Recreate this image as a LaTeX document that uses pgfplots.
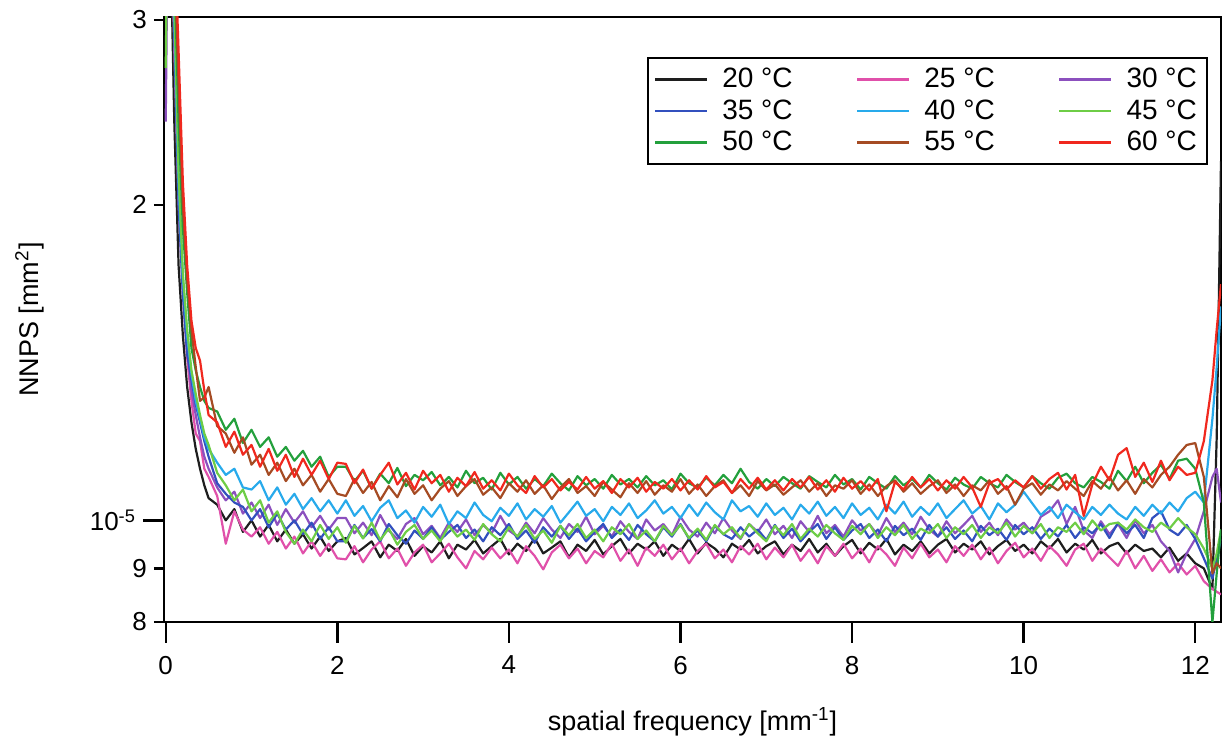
\documentclass[border=0pt]{standalone}
\usepackage{pgfplots}
\usepackage{pgfplotstable}
\pgfplotsset{compat=1.18}
\usepackage{fontspec}
\setmainfont{Liberation Sans}
\definecolor{c20col}{RGB}{30,30,30}
\definecolor{c25col}{RGB}{224,80,170}
\definecolor{c30col}{RGB}{140,80,190}
\definecolor{c35col}{RGB}{50,80,190}
\definecolor{c40col}{RGB}{40,170,235}
\definecolor{c45col}{RGB}{110,205,70}
\definecolor{c50col}{RGB}{35,160,60}
\definecolor{c55col}{RGB}{165,75,35}
\definecolor{c60col}{RGB}{240,40,30}
\pgfplotstableread{
x c20 c25 c30 c35 c40 c45 c50 c55 c60
0 60 60 24 60 60 27 60 60 60
0.05 38 42 60 42 44 60 48 50 52
0.1 24 28 30 29 30 31 34 35 37
0.15 17.5 20 20.5 20 21 21.5 24 26 28
0.2 15 16.5 16.8 16.4 17 17.2 19 20 21
0.25 13.4 14.3 14.6 14.4 15 15.2 16.5 17 17.5
0.3 12.4 13.0 13.3 13.6 13.8 13.9 14.6 15.2 15.5
0.35 11.7 12.1 12.6 12.9 13.0 13.2 13.9 14.0 14.6
0.4 11.2 11.9 12.0 12.4 12.5 12.6 13.4 13.0 14.2
0.45 10.8 11.2 11.5 11.9 12.0 12.1 13.0 13.1 13.3
0.5 10.5 11.0 11.2 11.5 11.7 11.8 12.8 13.4 12.6
0.6 10.35 10.55 10.75 10.85 11.35 11.1 12.7 12.3 12.4
0.7 10.0 9.5 10.45 10.6 11.05 10.8 12.2 12.1 11.75
0.8 10.25 10.2 10.65 10.4 11.2 10.45 12.5 11.6 12.15
0.9 9.75 9.8 10.15 10.3 10.75 10.7 11.85 12.0 11.55
1.0 10.0 9.65 10.4 10.0 10.7 10.2 12.2 11.3 11.8
1.1 9.65 9.85 10.05 10.25 10.9 10.45 11.75 11.55 11.25
1.2 9.9 9.5 10.35 9.85 10.45 9.95 12.0 11.05 11.7
1.3 9.55 9.75 9.9 10.15 10.75 10.2 11.5 11.35 11.15
1.4 9.8 9.4 10.25 9.8 10.35 9.75 11.75 10.9 11.55
1.5 9.5 9.65 9.95 10.0 10.6 9.5 11.4 11.2 11.0
1.6 9.7 9.3 10.2 9.7 10.25 9.8 11.65 10.8 11.45
1.7 9.4 9.55 9.85 9.95 10.5 9.55 11.25 11.05 11.05
1.8 9.65 9.25 10.1 9.6 10.2 9.9 11.5 10.65 11.4
1.9 9.35 9.5 9.8 9.85 10.45 9.6 11.0 10.95 10.95
2.0 9.55 9.2 10.05 9.55 10.15 9.85 11.25 10.6 11.35
2.1 9.62 9.18 10.05 9.55 10.45 9.52 11.25 10.55 11.32
2.2 9.28 9.45 9.72 9.9 10.1 9.88 10.9 10.95 10.85
2.3 9.41 9.12 9.95 9.62 10.32 9.61 11.15 10.62 11.18
2.4 9.55 9.38 9.68 9.81 9.98 9.95 10.72 10.88 10.72
2.5 9.22 9.55 10.12 9.55 10.28 9.58 11.08 10.45 11.05
2.6 9.48 9.2 9.78 9.92 10.45 9.82 10.85 10.78 11.35
2.7 9.35 9.4 9.6 9.68 10.05 9.48 11.22 10.52 10.82
2.8 9.6 9.05 9.92 9.5 10.22 9.75 10.78 10.95 11.1
2.9 9.25 9.32 10.05 9.78 9.95 9.9 11.05 10.6 10.7
3.0 9.45 9.48 9.7 9.6 10.3 9.6 10.92 10.8 11.15
3.1 9.32 9.12 9.88 9.85 10.08 9.78 11.12 10.45 10.85
3.2 9.55 9.3 9.62 9.58 10.35 9.55 10.8 10.72 11.05
3.3 9.2 9.5 9.95 9.75 9.92 9.88 11.0 10.9 10.65
3.4 9.48 9.22 9.75 9.9 10.2 9.65 10.75 10.55 10.98
3.5 9.38 9.0 10.02 9.62 10.05 9.8 11.15 10.78 10.78
3.6 9.58 9.35 9.68 9.8 10.4 9.58 10.85 10.95 11.12
3.7 9.3 9.18 9.9 9.55 10.12 9.92 10.98 10.58 10.72
3.8 9.45 9.42 9.72 9.85 9.98 9.7 10.7 10.75 10.92
3.9 9.6 9.2 10.1 9.68 10.28 9.55 11.1 10.5 10.68
4.0 9.28 9.38 9.78 9.92 10.1 9.85 10.82 10.85 11.08
4.1 9.5 9.1 9.65 9.6 10.38 9.65 11.0 10.65 10.8
4.2 9.35 9.45 9.95 9.78 10.02 9.9 10.72 10.92 10.62
4.3 9.62 9.25 9.72 9.52 10.25 9.6 10.95 10.6 11.02
4.4 9.3 8.98 10.05 9.85 10.08 9.78 10.78 10.8 10.75
4.5 9.42 9.32 9.8 9.65 10.32 9.52 11.08 10.48 10.95
4.6 9.55 9.48 9.62 9.88 9.95 9.88 10.85 10.75 10.68
4.7 9.22 9.2 9.92 9.6 10.18 9.68 10.68 10.95 10.88
4.8 9.48 9.4 9.75 9.82 10.42 9.92 11.02 10.62 10.7
4.9 9.35 9.1 10.08 9.55 10.1 9.62 10.8 10.78 11.0
5.0 9.58 9.35 9.7 9.75 10.25 9.8 10.95 10.55 10.72
5.1 9.28 9.22 9.88 9.92 9.98 9.55 10.72 10.88 10.9
5.2 9.45 9.5 9.65 9.62 10.3 9.85 11.05 10.7 10.62
5.3 9.6 9.15 9.98 9.8 10.12 9.7 10.82 10.52 10.95
5.4 9.3 9.38 9.75 9.58 10.38 9.92 10.95 10.85 10.75
5.5 9.5 9.05 9.6 9.9 10.05 9.6 10.75 10.62 10.98
5.6 9.38 9.42 10.02 9.7 10.22 9.78 11.02 10.9 10.65
5.7 9.55 9.25 9.78 9.55 10.45 9.55 10.8 10.58 10.88
5.8 9.25 9.48 9.92 9.85 10.15 9.88 10.92 10.8 10.72
5.9 9.48 9.18 9.68 9.65 10.3 9.68 10.7 10.65 10.95
6.0 9.35 9.4 10.08 9.92 10.05 9.9 11.08 10.95 10.68
6.1 9.6 9.1 9.8 9.6 10.35 9.62 10.85 10.6 10.92
6.2 9.3 9.35 9.65 9.78 10.1 9.82 10.75 10.82 10.7
6.3 9.52 9.5 9.95 9.55 10.4 9.58 10.98 10.55 11.02
6.4 9.4 9.2 9.72 9.88 10.18 9.9 10.8 10.78 10.75
6.5 9.22 9.38 10.05 9.7 10.02 9.7 11.05 10.92 10.88
6.6 9.5 9.12 9.78 9.6 10.45 9.85 10.85 10.62 10.62
6.7 9.38 9.45 9.6 9.85 10.2 9.62 11.2 10.8 10.95
6.8 9.58 9.28 9.92 9.65 10.32 9.92 10.88 10.55 10.72
6.9 9.3 9.5 9.75 9.8 10.08 9.72 10.72 10.9 10.98
7.0 9.45 9.18 10.02 9.58 10.38 9.55 10.95 10.68 10.7
7.1 9.55 9.42 9.7 9.9 10.12 9.88 10.78 10.82 10.92
7.2 9.28 9.22 9.88 9.62 10.28 9.68 11.0 10.58 10.68
7.3 9.48 9.48 9.62 9.82 10.02 9.92 10.85 10.75 10.95
7.4 9.35 9.15 9.98 9.55 10.35 9.6 10.72 10.92 10.75
7.5 9.6 9.38 9.75 9.75 10.15 9.82 11.02 10.65 11.0
7.6 9.32 9.1 10.1 9.92 10.42 9.65 10.88 10.85 10.7
7.7 9.5 9.45 9.72 9.6 10.1 9.9 10.75 10.55 10.92
7.8 9.25 9.25 9.9 9.85 10.3 9.72 11.05 10.8 10.65
7.9 9.45 9.5 9.65 9.58 10.05 9.58 10.82 10.72 10.98
8.0 9.58 9.2 10.0 9.78 10.38 9.88 10.95 10.92 10.72
8.1 9.3 9.4 9.78 9.92 10.12 9.7 10.7 10.6 10.9
8.2 9.52 9.12 9.92 9.62 10.28 9.92 11.0 10.82 10.68
8.3 9.38 9.45 9.68 9.8 10.02 9.62 10.85 10.55 10.95
8.4 9.6 9.28 10.05 9.55 10.35 9.85 10.72 10.78 10.2
8.5 9.28 9.05 9.75 9.88 10.15 9.68 11.02 10.92 10.88
8.6 9.48 9.42 9.95 9.68 10.42 9.9 10.8 10.65 10.7
8.7 9.35 9.2 9.7 9.82 10.08 9.6 10.95 10.85 11.0
8.8 9.55 9.5 10.08 9.58 10.3 9.82 10.75 10.6 10.75
8.9 9.3 9.22 9.8 9.9 10.12 9.72 11.05 10.78 10.95
9.0 9.48 9.38 9.65 9.65 10.38 9.92 10.85 10.92 10.68
9.1 9.6 9.12 9.98 9.85 10.05 9.62 10.7 10.62 10.92
9.2 9.32 9.45 9.72 9.6 10.25 9.85 10.98 10.82 10.72
9.3 9.5 9.25 9.9 9.78 10.45 9.7 10.82 10.55 11.0
9.4 9.38 9.48 10.1 9.55 10.15 9.9 10.72 10.8 10.75
9.5 9.55 9.18 9.75 9.88 10.32 9.62 11.0 10.68 10.3
9.6 9.28 9.42 9.95 9.68 10.02 9.85 10.85 10.92 10.85
9.7 9.45 9.1 9.68 9.82 10.38 9.72 10.75 10.6 10.95
9.8 9.58 9.35 10.02 9.58 10.18 9.95 11.05 10.78 10.7
9.9 9.35 9.52 9.8 9.9 10.35 9.65 10.88 10.35 10.92
10.0 9.48 9.22 9.95 9.7 10.65 9.88 10.75 10.72 10.75
10.1 9.3 9.4 9.72 9.85 10.38 9.72 11.02 10.85 11.02
10.2 9.55 9.15 10.08 9.6 10.12 9.92 10.85 10.58 10.72
10.3 9.4 9.45 10.2 9.82 10.3 9.62 10.72 10.82 10.95
10.4 9.6 9.28 10.45 9.65 10.05 9.85 10.98 10.68 11.1
10.5 9.32 9.05 9.92 9.9 10.35 9.75 11.08 10.9 10.7
10.6 9.5 9.38 10.3 9.62 10.18 9.95 10.85 10.72 11.05
10.7 9.38 9.5 9.78 9.85 10.02 9.7 10.75 10.55 10.1
10.8 9.58 9.15 9.62 9.72 10.3 10.0 11.0 10.9 10.82
10.9 9.3 9.4 9.98 9.92 10.12 9.78 10.88 10.72 11.25
11.0 9.45 9.22 9.7 9.62 10.35 9.92 10.72 11.0 10.92
11.1 9.52 9.05 9.92 9.95 10.15 9.95 11.15 10.68 11.55
11.2 9.3 9.35 9.62 9.72 10.02 9.8 10.9 10.92 11.72
11.3 9.48 9.0 10.0 9.9 10.3 10.02 11.25 10.6 11.0
11.4 9.35 9.25 9.72 9.62 10.1 9.85 10.85 10.95 11.35
11.5 9.4 8.95 9.9 10.05 10.35 9.75 11.1 10.75 10.88
11.6 9.22 9.18 9.55 10.2 10.15 9.95 11.3 11.05 11.4
11.7 9.42 8.92 9.35 9.8 10.4 9.82 10.95 11.25 10.92
11.8 9.15 9.1 8.92 9.68 10.2 10.05 11.4 11.55 11.25
11.9 9.3 8.88 9.3 9.9 10.5 9.85 11.45 11.8 11.05
12.0 9.1 9.05 9.6 9.6 10.65 9.7 11.2 11.85 11.1
12.1 9.0 8.75 10.2 9.2 10.4 9.4 10.4 11.0 11.9
12.2 8.6 8.6 11.0 8.8 12.5 9.0 8.0 8.9 13.6
12.25 12 8.55 11.2 9.2 14 9.3 8.9 9.1 15.2
12.3 22 8.5 10.4 9.6 16 9.8 9.8 9.0 16.8
}\nnps
\begin{document}
\begin{tikzpicture}
\begin{axis}[
  at={(82pt,59.5pt)}, anchor=south west,
  scale only axis, width=528.5pt, height=302.5pt,
  ymode=log, xmin=-0.02, xmax=12.3, ymin=8, ymax=30.2,
  axis line style={line width=1.2pt, black},
  every tick/.style={line width=1.2pt, black},
  tick align=outside, xtick pos=lower, ytick pos=left,
  major tick length=10.5pt, minor tick length=0pt,
  xtick={0,2,4,6,8,10,12}, xticklabels={0,2,4,6,8,10,12},
  ytick={10}, yticklabels={10\textsuperscript{-5}},
  extra y ticks={8,9,20,30}, extra y tick labels={8,9,2,3},
  extra y tick style={major tick length=5pt},
  /pgf/number format/assume math mode=true,
  ticklabel style={font=\fontsize{13}{15}\selectfont},
  xticklabel style={yshift=-3pt},
  xlabel={spatial frequency [mm\textsuperscript{-1}]},
  ylabel={NNPS [mm\textsuperscript{2}]},
  every axis x label/.style={at={(axis description cs:0.5,-0.1653)}, anchor=center, font=\fontsize{13.5}{16}\selectfont},
  every axis y label/.style={at={(axis description cs:-0.127,0.5)}, anchor=center, rotate=90, font=\fontsize{13.5}{16}\selectfont},
  legend columns=3,
  legend cell align=left,
  legend image code/.code={\draw[#1, line width=1.2pt] (3pt,0pt) -- (29pt,0pt);},
  legend style={at={(axis description cs:1,1)}, anchor=north east, xshift=-6.5pt, yshift=-20pt,
    draw=black, line width=1.1pt, font=\fontsize{14}{16}\selectfont,
    inner xsep=3pt, inner ysep=2.5pt, row sep=-0.5pt,
    nodes={inner ysep=2.5pt},
    /tikz/every odd column/.append style={column sep=5pt},
    /tikz/every even column/.append style={column sep=29.7pt}},
  every axis plot/.append style={line width=1.1pt, line join=round},
]
\addplot[c20col] table[x=x,y=c20]{\nnps}; \addlegendentry{20 °C}
\addplot[c25col] table[x=x,y=c25]{\nnps}; \addlegendentry{25 °C}
\addplot[c30col] table[x=x,y=c30]{\nnps}; \addlegendentry{30 °C}
\addplot[c35col] table[x=x,y=c35]{\nnps}; \addlegendentry{35 °C}
\addplot[c40col] table[x=x,y=c40]{\nnps}; \addlegendentry{40 °C}
\addplot[c45col] table[x=x,y=c45]{\nnps}; \addlegendentry{45 °C}
\addplot[c50col] table[x=x,y=c50]{\nnps}; \addlegendentry{50 °C}
\addplot[c55col] table[x=x,y=c55]{\nnps}; \addlegendentry{55 °C}
\addplot[c60col] table[x=x,y=c60]{\nnps}; \addlegendentry{60 °C}
\end{axis}
\pgfresetboundingbox
\useasboundingbox (0,0) rectangle (611.5pt,370.5pt);
\end{tikzpicture}
\end{document}
